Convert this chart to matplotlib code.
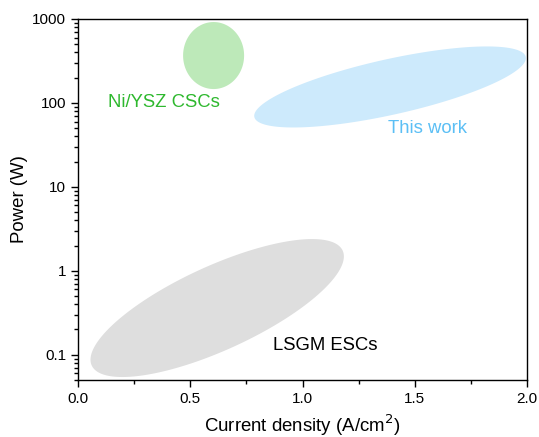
import numpy as np
import matplotlib.pyplot as plt
from matplotlib.ticker import FixedLocator, NullFormatter, LogLocator

plt.rcParams['font.family'] = ['Liberation Sans', 'DejaVu Sans']

# performance regions (centre in data units, semi-axes in points, tilt in degrees)
region_names = ["LSGM ESCs", "This work", "Ni/YSZ CSCs"]
center_j = [0.62, 1.39, 0.604]
center_p = [0.36, 155.0, 367.0]
semi_major = [138.0, 139.0, 33.5]
semi_minor = [42.0, 27.8, 30.5]
tilt_deg = [24.6, 12.5, 90.0]
fill_colors = ["#dedede", "#cdeafc", "#bde9b9"]

# label anchors
label_j = [1.10, 1.555, 0.385]
label_p = [0.128, 50.0, 100.0]
label_colors = ["#000000", "#5bbff5", "#2eb82e"]

fig = plt.figure(figsize=(5.39, 4.37), dpi=100)
ax = fig.add_axes([78 / 539, 1 - 380 / 437, 449 / 539, 361 / 437])
ax.set_yscale("log")
ax.set_xlim(0, 2.0)
ax.set_ylim(0.05, 1000)

t = np.linspace(0, 2 * np.pi, 300)
for cx, cy, a, b, ang, col in zip(center_j, center_p, semi_major, semi_minor, tilt_deg, fill_colors):
    px, py = ax.transData.transform((cx, cy))
    th = np.deg2rad(ang)
    ex = a * np.cos(t) * np.cos(th) - b * np.sin(t) * np.sin(th)
    ey = a * np.cos(t) * np.sin(th) + b * np.sin(t) * np.cos(th)
    pts = ax.transData.inverted().transform(np.column_stack([px + ex, py + ey]))
    ax.fill(pts[:, 0], pts[:, 1], color=col, lw=0, zorder=1, clip_on=True)

for name, lx, ly, col in zip(region_names, label_j, label_p, label_colors):
    ax.text(lx, ly, name, color=col, fontsize=13.3, ha="center", va="center", zorder=3)

ax.set_xticks([0.0, 0.5, 1.0, 1.5, 2.0])
ax.set_xticklabels(["0.0", "0.5", "1.0", "1.5", "2.0"])
ax.xaxis.set_minor_locator(FixedLocator([0.25, 0.75, 1.25, 1.75]))
ax.set_yticks([0.1, 1, 10, 100, 1000])
ax.set_yticklabels(["0.1", "1", "10", "100", "1000"])
ax.yaxis.set_minor_locator(LogLocator(base=10, subs=np.arange(2, 10)))
ax.yaxis.set_minor_formatter(NullFormatter())

ax.tick_params(axis="both", which="major", direction="out", length=5, width=1,
               labelsize=11, top=False, right=False)
ax.tick_params(axis="both", which="minor", direction="out", length=3, width=1,
               top=False, right=False)
for s in ax.spines.values():
    s.set_linewidth(1)

ax.set_xlabel("Current density (A/cm$^2$)", fontsize=13.4, labelpad=5)
ax.set_ylabel("Power (W)", fontsize=13.4, labelpad=3)

fig.savefig("out.png", dpi=100)
